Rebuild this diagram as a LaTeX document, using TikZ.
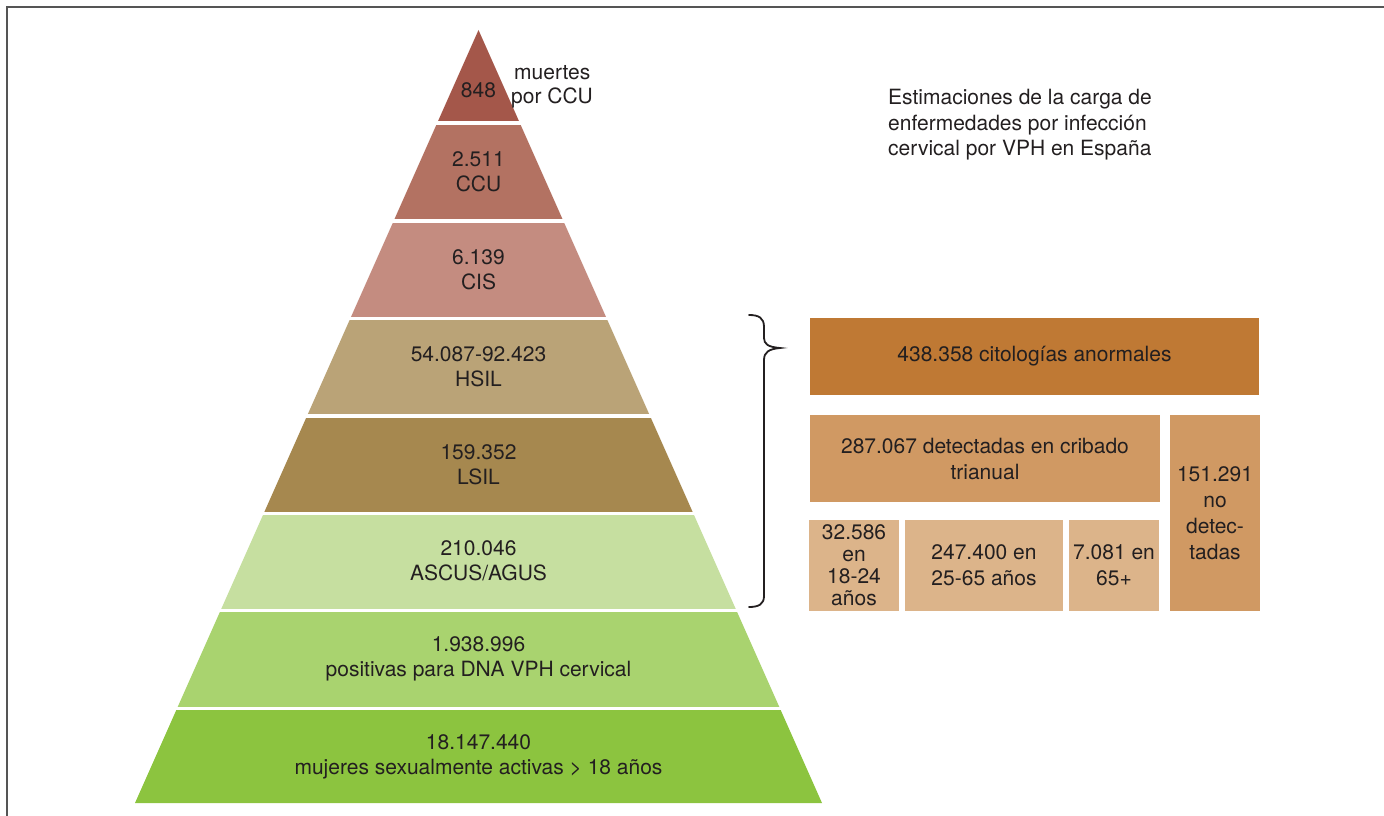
\documentclass[tikz,border=0pt]{standalone}
\usepackage{fontspec}
\setmainfont{TeX Gyre Heros}
\definecolor{txt}{HTML}{231F20}
\definecolor{frm}{HTML}{555555}
\definecolor{cA}{HTML}{A4574A}
\definecolor{cB}{HTML}{B37262}
\definecolor{cC}{HTML}{C48C80}
\definecolor{cD}{HTML}{BAA377}
\definecolor{cE}{HTML}{A6884F}
\definecolor{cF}{HTML}{C6DFA0}
\definecolor{cG}{HTML}{A9D36F}
\definecolor{cH}{HTML}{8CC43F}
\definecolor{bxTop}{HTML}{BF7934}
\definecolor{bxMid}{HTML}{D09963}
\definecolor{bxLow}{HTML}{DCB48A}
\begin{document}
\begin{tikzpicture}[x=1pt,y=-1pt,
  lbl/.style={text=txt, align=center, font=\fontsize{21}{25}\selectfont, inner sep=0pt},
  bx/.style={text=txt, align=center, font=\fontsize{21}{26}\selectfont, inner sep=0pt, anchor=center},
  frame/.style={draw=frm, line width=1.6pt},
  brace/.style={draw=txt, line width=1.8pt, line cap=round, line join=miter}]
\useasboundingbox (0,0) rectangle (1384,816);
\draw[frame] (7,816) -- (7,7) -- (1384,7);
% pyramid
\coordinate (apex) at (478.5,30);
\coordinate (bl) at (135,803);
\coordinate (br) at (822,803);
\foreach \t/\b/\c in {30/120/cA, 125/218/cB, 223/316/cC, 320/413/cD, 418/511/cE, 515/608/cF, 612/706/cG, 710/803/cH}{
  \begin{scope}
    \clip (0,\t) rectangle (1384,\b);
    \fill[\c] (apex) -- (bl) -- (br) -- cycle;
  \end{scope}
}
% pyramid labels
\node[lbl] (l1) at (478.5,90) {848};
\node[lbl, align=left, anchor=west, font=\fontsize{21}{24}\selectfont] (l1b) at (511,87) {\hspace*{3pt}muertes\\por CCU};
\node[lbl] (l2) at (478.5,172) {2.511\\CCU};
\node[lbl] (l3) at (478.5,270) {6.139\\CIS};
\node[lbl] (l4) at (478.5,367) {54.087-92.423\\HSIL};
\node[lbl] (l5) at (478.5,465) {159.352\\LSIL};
\node[lbl] (l6) at (478.5,561) {210.046\\ASCUS/AGUS};
\node[lbl] (l7) at (478.5,659) {1.938.996\\positivas para DNA VPH cervical};
\node[lbl] (l8) at (478.5,757) {18.147.440\\mujeres sexualmente activas > 18 años};
% title
\node[lbl, align=left, anchor=west, font=\fontsize{21}{25.5}\selectfont] (title) at (888,125)
  {Estimaciones de la carga de\\enfermedades por infección\\cervical por VPH en España};
% boxes
\node[bx, fill=bxTop, minimum width=449pt, minimum height=77pt] (b1) at (1034.5,356.5) {438.358 citologías anormales};
\node[bx, fill=bxMid, minimum width=350pt, minimum height=87pt] (b2) at (985,458.5) {287.067 detectadas en cribado\\trianual};
\node[bx, fill=bxMid, minimum width=90pt, minimum height=196pt] (b3) at (1215,513) {151.291\\no\\detec-\\tadas};
\node[bx, fill=bxLow, minimum width=90pt, minimum height=91pt, font=\fontsize{21}{22}\selectfont] (b4) at (854,565.5) {32.586\\en\\18-24\\años};
\node[bx, fill=bxLow, minimum width=158pt, minimum height=91pt] (b5) at (984,565.5) {247.400 en\\25-65 años};
\node[bx, fill=bxLow, minimum width=90pt, minimum height=91pt] (b6) at (1114,565.5) {7.081 en\\65+};
% brace
\coordinate (brTop) at (749,315);
\coordinate (brTip) at (780,348);
\coordinate (brBot) at (749,607);
\draw[brace] (brTop) .. controls (759,315) and (764,318) .. (764,327)
  -- (764,338) .. controls (764,344) and (768,347) .. (brTip)
  .. controls (769,349) and (764,352) .. (764,360)
  -- (764,596) .. controls (764,604) and (759,607) .. (brBot);
\end{tikzpicture}
\end{document}
